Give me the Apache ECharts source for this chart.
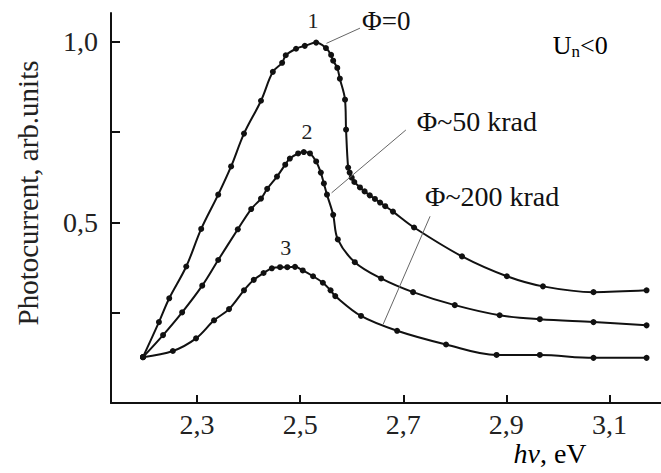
<!DOCTYPE html>
<html><head><meta charset="utf-8">
<script src="https://cdn.jsdelivr.net/npm/echarts@6/dist/echarts.min.js"></script>
<style>html,body{margin:0;padding:0;background:#fff}#c{width:661px;height:473px}</style>
</head><body><div id="c"></div>
<script>
// Curve 1: Φ=0
const curve1X = [2.195,2.226,2.246,2.279,2.308,2.341,2.366,2.391,2.424,2.447,2.465,2.472,2.492,2.509,2.531,2.550,2.560,2.564,2.572,2.577,2.587,2.589,2.593,2.596,2.600,2.605,2.616,2.625,2.635,2.645,2.655,2.665,2.680,2.721,2.814,2.901,2.971,3.069,3.172];
const curve1Y = [0.127,0.224,0.290,0.378,0.482,0.577,0.655,0.746,0.837,0.917,0.942,0.963,0.981,0.989,0.998,0.983,0.964,0.948,0.928,0.898,0.840,0.757,0.652,0.638,0.624,0.612,0.597,0.586,0.575,0.565,0.555,0.545,0.530,0.486,0.406,0.351,0.323,0.307,0.312];
// Curve 2: Φ~50 krad
const curve2X = [2.195,2.234,2.271,2.310,2.341,2.379,2.405,2.424,2.436,2.455,2.471,2.480,2.496,2.507,2.519,2.531,2.540,2.546,2.552,2.564,2.573,2.606,2.657,2.719,2.800,2.887,2.965,3.069,3.172];
const curve2Y = [0.127,0.188,0.251,0.325,0.396,0.481,0.537,0.566,0.593,0.627,0.660,0.677,0.691,0.695,0.691,0.669,0.638,0.608,0.577,0.521,0.453,0.390,0.345,0.307,0.271,0.243,0.232,0.224,0.215];
// Curve 3: Φ~200 krad
const curve3X = [2.195,2.253,2.298,2.333,2.362,2.391,2.410,2.429,2.445,2.461,2.475,2.490,2.505,2.525,2.544,2.559,2.568,2.618,2.688,2.783,2.881,2.965,3.069,3.172];
const curve3Y = [0.127,0.144,0.179,0.229,0.260,0.312,0.341,0.360,0.373,0.376,0.376,0.377,0.367,0.351,0.333,0.312,0.296,0.241,0.200,0.162,0.133,0.133,0.125,0.125];

const xTicks = [2.3, 2.5, 2.7, 2.9, 3.1];
const yTicks = [0.25, 0.5, 0.75, 1.0];
const yLabelValues = [0.5, 1.0];

const curveNumbers = ['1', '2', '3'];
const curveNumberPos = [[2.525, 1.058], [2.513, 0.752], [2.472, 0.430]];
const doseLabels = ['Φ=0', 'Φ~50 krad', 'Φ~200 krad'];
const doseLabelPos = [[2.620, 1.057], [2.726, 0.779], [2.742, 0.572]];
const leaderFrom = [[2.551, 0.996], [2.561, 0.582], [2.661, 0.218]];
const leaderTo = [[2.616, 1.038], [2.705, 0.756], [2.752, 0.517]];
const conditionPos = [2.99, 0.990];

const FONT = 'Liberation Serif';
const INK = '#111';

function zip(xs, ys) { return xs.map((x, i) => [x, ys[i]]); }
function lineSeries(name, xs, ys, extra) {
  return Object.assign({
    name, type: 'line', data: zip(xs, ys), smooth: 0.35,
    symbol: 'circle', symbolSize: 6, showSymbol: true,
    lineStyle: { color: INK, width: 2 }, itemStyle: { color: INK },
    animation: false, silent: true, clip: false
  }, extra || {});
}

const chart = echarts.init(document.getElementById('c'), null, { renderer: 'svg' });
chart.setOption({
  backgroundColor: '#fff',
  animation: false,
  textStyle: { fontFamily: FONT },
  grid: { left: 111, right: 0, top: 13, bottom: 70 },
  xAxis: {
    type: 'value', min: 2.133, max: 3.2,
    axisLine: { show: true, lineStyle: { color: INK, width: 2 } },
    axisTick: { show: true, inside: true, length: 8, customValues: xTicks, lineStyle: { color: INK, width: 2 } },
    axisLabel: { customValues: xTicks, formatter: v => v.toFixed(1).replace('.', ','), fontFamily: FONT, fontSize: 28, color: '#222', margin: 7 },
    splitLine: { show: false }
  },
  yAxis: {
    type: 'value', min: 0, max: 1.08,
    axisLine: { show: true, lineStyle: { color: INK, width: 2 } },
    axisTick: { show: true, inside: true, length: 9, customValues: yTicks, lineStyle: { color: INK, width: 2 } },
    axisLabel: { customValues: yLabelValues, formatter: v => v.toFixed(1).replace('.', ','), fontFamily: FONT, fontSize: 28, color: '#222', margin: 13, padding: [8, 0, 0, 0] },
    splitLine: { show: false }
  },
  series: [
    lineSeries('Φ=0', curve1X, curve1Y, {
      markLine: {
        silent: true, symbol: ['none', 'none'], label: { show: false },
        lineStyle: { color: '#666', width: 1, type: 'solid' },
        data: leaderFrom.map((p, i) => [{ coord: p }, { coord: leaderTo[i] }])
      }
    }),
    lineSeries('Φ~50 krad', curve2X, curve2Y),
    lineSeries('Φ~200 krad', curve3X, curve3Y)
  ]
});

const px = p => chart.convertToPixel({ gridIndex: 0 }, p);
const graphics = [];
curveNumbers.forEach((t, i) => {
  const p = px(curveNumberPos[i]);
  graphics.push({ type: 'text', x: p[0], y: p[1], style: { text: t, fontFamily: FONT, fontSize: 22, fill: '#222', align: 'center', verticalAlign: 'middle' } });
});
doseLabels.forEach((t, i) => {
  const p = px(doseLabelPos[i]);
  graphics.push({ type: 'text', x: p[0], y: p[1], style: { text: t, fontFamily: FONT, fontSize: i === 0 ? 27 : 28, fill: '#111', align: 'left', verticalAlign: 'middle' } });
});
const cp = px(conditionPos);
graphics.push({ type: 'text', x: cp[0], y: cp[1], style: {
  text: '{a|U}{b|n}{a|<0}', align: 'left', verticalAlign: 'middle',
  rich: { a: { fontFamily: FONT, fontSize: 26, color: '#222' }, b: { fontFamily: FONT, fontSize: 17, color: '#222', padding: [11, 0, 0, 0] } }
} });
graphics.push({ type: 'text', x: 28, y: 193, rotation: Math.PI / 2, style: { text: 'Photocurrent, arb.units', fontFamily: FONT, fontSize: 29, fill: '#222', align: 'center', verticalAlign: 'middle' } });
graphics.push({ type: 'text', x: 550, y: 453, style: {
  text: '{i|hν}{n|, eV}', align: 'center', verticalAlign: 'middle',
  rich: { i: { fontFamily: FONT, fontSize: 28, fontStyle: 'italic', color: '#222' }, n: { fontFamily: FONT, fontSize: 28, color: '#222' } }
} });
chart.setOption({ graphic: graphics });
</script>
</body></html>
